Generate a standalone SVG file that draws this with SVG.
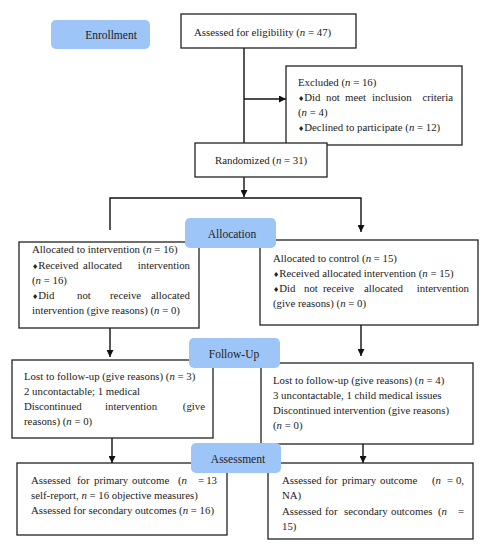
<svg xmlns="http://www.w3.org/2000/svg" width="483" height="550" viewBox="0 0 483 550">
<style>
.box{fill:#fff;stroke:#222;stroke-width:1.3}
.lab{fill:#9ec5f7;stroke:none}
text{font-family:"Liberation Serif","Times New Roman",serif;font-size:10.8px;fill:#222}
.lt{font-size:11.5px;text-anchor:middle}
.i{font-style:italic}
.b{font-size:7px;font-family:"DejaVu Sans",sans-serif}
.c{fill:none;stroke:#111;stroke-width:1.4}
</style>
<defs>
<marker id="ah" viewBox="0 0 10 10" refX="10" refY="5" markerWidth="7" markerHeight="7" markerUnits="userSpaceOnUse" orient="auto">
<path d="M0,0 L10,5 L0,10 z" fill="#111"/>
</marker>
</defs>
<g id="connectors">
<path class="c" d="M244,48 V143"/>
<path class="c" d="M244,99 H286" marker-end="url(#ah)"/>
<path class="c" d="M244,177 V197" marker-end="url(#ah)"/>
<path class="c" d="M110,230 V198 H361 V232" marker-end="url(#ah)"/>
<path class="c" d="M110,328 V357" marker-end="url(#ah)"/>
<path class="c" d="M361,325 V356" marker-end="url(#ah)"/>
<path class="c" d="M112,438 V463" marker-end="url(#ah)"/>
<path class="c" d="M363,444 V463" marker-end="url(#ah)"/>
</g>
<g id="enrollment">
<rect class="lab" x="51" y="20" width="99" height="29" rx="5"/>
<text class="lt" x="111" y="39">Enrollment</text>
</g>
<g id="assessed">
<rect class="box" x="181" y="14" width="175" height="34"/>
<text x="194" y="36">Assessed for eligibility (<tspan class="i">n</tspan> = 47)</text>
</g>
<g id="excluded">
<rect class="box" x="286" y="66" width="176" height="79"/>
<text x="298" y="86">Excluded (<tspan class="i">n</tspan> = 16)</text>
<text y="101"><tspan class="b" x="298">♦</tspan><tspan>Did</tspan><tspan x="326">not</tspan><tspan x="345">meet</tspan><tspan x="372">inclusion</tspan><tspan x="453" text-anchor="end">criteria</tspan></text>
<text x="298" y="116">(<tspan class="i">n</tspan> = 4)</text>
<text x="298" y="131"><tspan class="b">♦</tspan>Declined to participate (<tspan class="i">n</tspan> = 12)</text>
</g>
<g id="randomized">
<rect class="box" x="195" y="143" width="132" height="34"/>
<text x="215" y="164">Randomized (<tspan class="i">n</tspan> = 31)</text>
</g>
<g id="alloc-left">
<rect class="box" x="19" y="242" width="180" height="86"/>
<text x="32" y="253">Allocated to intervention (<tspan class="i">n</tspan> = 16)</text>
<text y="269"><tspan class="b" x="32">♦</tspan><tspan>Received</tspan><tspan x="83">allocated</tspan><tspan x="190" text-anchor="end">intervention</tspan></text>
<text x="32" y="284">(<tspan class="i">n</tspan> = 16)</text>
<text y="299"><tspan class="b" x="32">♦</tspan><tspan>Did</tspan><tspan x="77">not</tspan><tspan x="110">receive</tspan><tspan x="190" text-anchor="end">allocated</tspan></text>
<text x="32" y="314">intervention (give reasons) (<tspan class="i">n</tspan> = 0)</text>
</g>
<g id="alloc-right">
<rect class="box" x="260" y="240" width="218" height="85"/>
<text x="273" y="262">Allocated to control (<tspan class="i">n</tspan> = 15)</text>
<text x="273" y="277"><tspan class="b">♦</tspan>Received allocated intervention (<tspan class="i">n</tspan> = 15)</text>
<text y="292"><tspan class="b" x="273">♦</tspan><tspan>Did</tspan><tspan x="304">not</tspan><tspan x="323">receive</tspan><tspan x="364">allocated</tspan><tspan x="469" text-anchor="end">intervention</tspan></text>
<text x="273" y="307">(give reasons) (<tspan class="i">n</tspan> = 0)</text>
</g>
<g id="allocation">
<rect class="lab" x="185" y="218" width="91" height="30" rx="5"/>
<text class="lt" x="232" y="238">Allocation</text>
</g>
<g id="follow-left">
<rect class="box" x="12" y="360" width="201" height="78"/>
<text x="24" y="380">Lost to follow-up (give reasons) (<tspan class="i">n</tspan> = 3)</text>
<text x="24" y="395">2 uncontactable; 1 medical</text>
<text y="410"><tspan x="24">Discontinued</tspan><tspan x="105">intervention</tspan><tspan x="205" text-anchor="end">(give</tspan></text>
<text x="24" y="425">reasons) (<tspan class="i">n</tspan> = 0)</text>
</g>
<g id="follow-right">
<rect class="box" x="261" y="363" width="212" height="81"/>
<text x="273" y="384">Lost to follow-up (give reasons) (<tspan class="i">n</tspan> = 4)</text>
<text x="273" y="399">3 uncontactable, 1 child medical issues</text>
<text x="273" y="414">Discontinued intervention (give reasons)</text>
<text x="273" y="429">(<tspan class="i">n</tspan> = 0)</text>
</g>
<g id="followup">
<rect class="lab" x="189" y="338" width="91" height="30" rx="5"/>
<text class="lt" x="234" y="358">Follow-Up</text>
</g>
<g id="assess-left">
<rect class="box" x="17" y="463" width="210" height="72"/>
<text y="484"><tspan x="31">Assessed</tspan><tspan x="77">for</tspan><tspan x="94">primary</tspan><tspan x="132">outcome</tspan><tspan x="178">(<tspan class="i">n</tspan></tspan><tspan x="198">=</tspan><tspan x="217" text-anchor="end">13</tspan></text>
<text x="31" y="499">self-report, <tspan class="i">n</tspan> = 16 objective measures)</text>
<text x="31" y="514">Assessed for secondary outcomes (<tspan class="i">n</tspan> = 16)</text>
</g>
<g id="assess-right">
<rect class="box" x="268" y="463" width="205" height="76"/>
<text y="484"><tspan x="282">Assessed</tspan><tspan x="325">for</tspan><tspan x="342">primary</tspan><tspan x="380">outcome</tspan><tspan x="432">(<tspan class="i">n</tspan></tspan><tspan x="447">=</tspan><tspan x="464" text-anchor="end">0,</tspan></text>
<text x="282" y="499">NA)</text>
<text y="515"><tspan x="282">Assessed</tspan><tspan x="325">for</tspan><tspan x="344">secondary</tspan><tspan x="391">outcomes</tspan><tspan x="438">(<tspan class="i">n</tspan></tspan><tspan x="464" text-anchor="end">=</tspan></text>
<text x="282" y="530">15)</text>
</g>
<g id="assessment">
<rect class="lab" x="191" y="443" width="90" height="30" rx="5"/>
<text class="lt" x="238" y="463">Assessment</text>
</g>
</svg>
